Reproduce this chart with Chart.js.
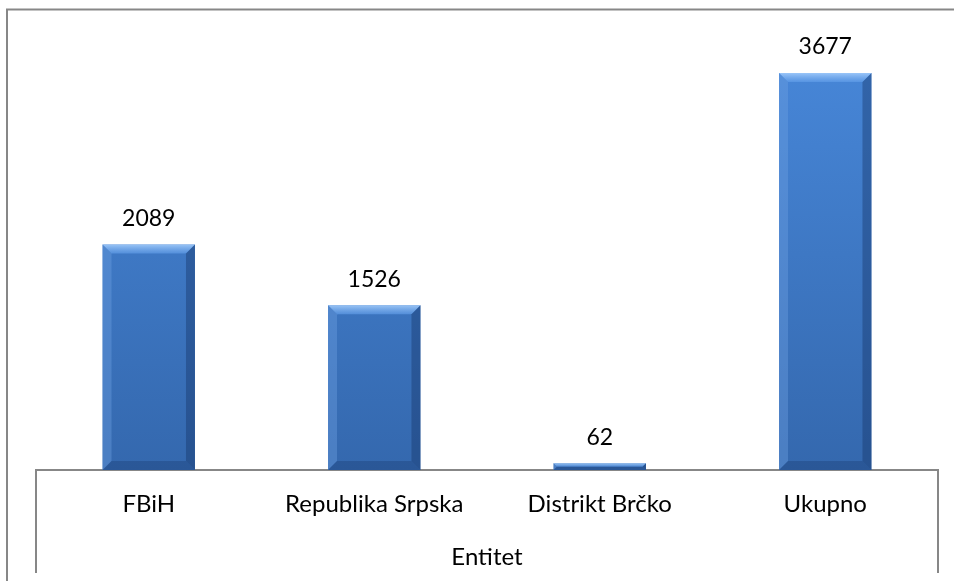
<!DOCTYPE html>
<html>
<head>
<meta charset="utf-8">
<script src="https://cdn.jsdelivr.net/npm/chart.js@4"></script>
<style>
  html, body { margin: 0; padding: 0; background: #fff; }
  #wrap { width: 954px; height: 581px; position: relative; }
</style>
</head>
<body>
<div id="wrap"><canvas id="grafico" width="954" height="581"></canvas></div>
<script>
// datos
const kategorije = ['FBiH', 'Republika Srpska', 'Distrikt Brčko', 'Ukupno'];
const vrijednosti = [2089, 1526, 62, 3677];
const nazivOse = 'Entitet';

const FONT = 'Lato, "Open Sans", sans-serif';

// okvir oko cijelog grafikona + kutija ispod ose
const okvirPlugin = {
  id: 'okvir',
  beforeDraw(chart) {
    const c = chart.ctx;
    c.save();
    c.strokeStyle = '#878787';
    c.lineWidth = 2;
    c.strokeRect(7, 9.5, 990, 640);
    const a = chart.chartArea;
    c.beginPath();
    c.moveTo(a.left, a.bottom);
    c.lineTo(a.left, 573);
    c.moveTo(a.right, a.bottom);
    c.lineTo(a.right, 573);
    c.stroke();
    c.restore();
  }
};

// bevel efekat + vrijednosti iznad stubova
const stubPlugin = {
  id: 'stubovi',
  afterDatasetsDraw(chart) {
    const c = chart.ctx;
    const meta = chart.getDatasetMeta(0);
    c.save();
    meta.data.forEach((bar, i) => {
      const l = bar.x - bar.width / 2, r = bar.x + bar.width / 2;
      const t = bar.y, b = bar.base;
      const h = b - t;
      const s = Math.min(9, h / 2);
      // gornja ivica
      const gg = c.createLinearGradient(0, t, 0, t + s);
      gg.addColorStop(0, 'rgba(170,210,255,0.85)');
      gg.addColorStop(1, 'rgba(100,160,235,0.6)');
      c.fillStyle = gg;
      c.beginPath();
      c.moveTo(l, t); c.lineTo(r, t); c.lineTo(r - s, t + s); c.lineTo(l + s, t + s);
      c.closePath(); c.fill();
      // lijeva ivica
      c.fillStyle = 'rgba(110,160,225,0.4)';
      c.beginPath();
      c.moveTo(l, t); c.lineTo(l + s, t + s); c.lineTo(l + s, b - s); c.lineTo(l, b);
      c.closePath(); c.fill();
      // desna ivica
      c.fillStyle = 'rgba(20,50,100,0.4)';
      c.beginPath();
      c.moveTo(r, t); c.lineTo(r - s, t + s); c.lineTo(r - s, b - s); c.lineTo(r, b);
      c.closePath(); c.fill();
      // donja ivica
      c.fillStyle = 'rgba(20,50,100,0.3)';
      c.beginPath();
      c.moveTo(l, b); c.lineTo(l + s, b - s); c.lineTo(r - s, b - s); c.lineTo(r, b);
      c.closePath(); c.fill();

      // vrijednost
      c.fillStyle = '#000';
      c.font = '23px ' + FONT;
      c.textAlign = 'center';
      c.textBaseline = 'middle';
      c.fillText(String(vrijednosti[i]), bar.x, t - 26);
    });
    c.restore();
  }
};

const ctx = document.getElementById('grafico');

new Chart(ctx, {
  type: 'bar',
  data: {
    labels: kategorije,
    datasets: [{
      data: vrijednosti,
      backgroundColor(context) {
        const a = context.chart.chartArea;
        if (!a) return '#3C78C8';
        const g = context.chart.ctx.createLinearGradient(0, a.top, 0, a.bottom);
        g.addColorStop(0, '#4888DA');
        g.addColorStop(1, '#3468AE');
        return g;
      },
      borderWidth: 0,
      categoryPercentage: 1,
      barPercentage: 0.41
    }]
  },
  options: {
    responsive: false,
    animation: false,
    layout: { padding: { left: 36, right: 16, top: 38, bottom: 0 } },
    plugins: {
      legend: { display: false },
      tooltip: { enabled: false }
    },
    scales: {
      y: {
        display: false,
        min: 0,
        max: 4000
      },
      x: {
        grid: { display: false, drawTicks: false },
        border: { display: true, color: '#878787', width: 2 },
        ticks: {
          color: '#000',
          padding: 20,
          font: { family: FONT, size: 24 }
        },
        title: {
          display: true,
          text: nazivOse,
          color: '#000',
          font: { family: FONT, size: 24 },
          padding: { top: 4, bottom: 9 }
        },
        afterFit(scale) { scale.height = 111; }
      }
    }
  },
  plugins: [okvirPlugin, stubPlugin]
});
</script>
</body>
</html>
